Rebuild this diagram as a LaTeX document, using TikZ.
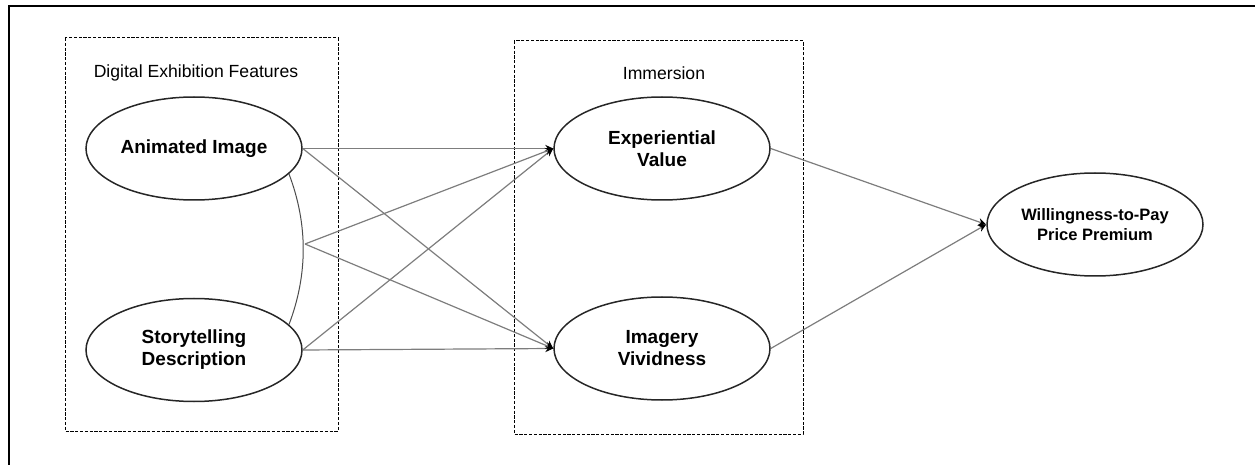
\documentclass[tikz,border=0pt]{standalone}
\usepackage{fontspec}
\setmainfont{Liberation Sans}
\usepackage{xcolor}
\definecolor{linegray}{RGB}{125,125,125}
\usepackage{tikz}
\usetikzlibrary{shapes.geometric,arrows.meta,positioning}

\begin{document}
\begin{tikzpicture}[
    x=0.5pt, y=-0.5pt,
    latent/.style={ellipse, draw=black!85, line width=0.75pt,
                   minimum width=108pt, minimum height=51.5pt,
                   inner sep=0pt, align=center,
                   font=\fontsize{9.5}{11}\selectfont\bfseries},
    grp/.style={draw=black, line width=0.5pt,
                dash pattern=on 1.6pt off 0.8pt},
    grplbl/.style={font=\fontsize{8.8}{10}\selectfont},
    arr/.style={-{Stealth[length=4pt,width=3.6pt,color=black]},
                draw=linegray, line width=0.6pt},
    cov/.style={draw=black!70, line width=0.5pt},
    frame/.style={draw=black, line width=1.3pt},
  ]
  \useasboundingbox (0,0) rectangle (1255,465);

  %% outer frame (only top and left edges show)
  \draw[frame] (9,466) -- (9,6) -- (1256,6);

  %% group boxes
  \draw[grp] (65,38) rectangle (338,431);
  \node[grplbl] (deflbl) at (196,73) {Digital Exhibition Features};
  \draw[grp] (514,41) rectangle (803,434);
  \node[grplbl] (imlbl) at (664,73) {Immersion};

  %% constructs
  \node[latent] (ai)  at (194,148.5) {Animated Image};
  \node[latent] (sd)  at (194,350)   {Storytelling\\Description};
  \node[latent] (ev)  at (662,148.5) {Experiential\\Value};
  \node[latent] (iv)  at (662,348.5) {Imagery\\Vividness};
  \node[latent, font=\fontsize{8.25}{9.7}\selectfont\bfseries]
              (wtp) at (1095,224.5) {Willingness-to-Pay\\Price Premium};

  %% correlation between the two features
  \draw[cov] (ai.-15) .. controls +(19,50) and +(19,-50) .. (sd.15);
  \coordinate (cv) at (305,244);

  %% paths to immersion
  \draw[arr] (ai.east)--(ev.west);
  \draw[arr] (ai.east)--(iv.west);
  \draw[arr] (sd.east)--(ev.west);
  \draw[arr] (sd.east)--(iv.west);
  \draw[arr] (cv)--(ev.west);
  \draw[arr] (cv)--(iv.west);

  %% paths to outcome
  \draw[arr] (ev.east)--(wtp.west);
  \draw[arr] (iv.east)--(wtp.west);

\end{tikzpicture}
\end{document}
